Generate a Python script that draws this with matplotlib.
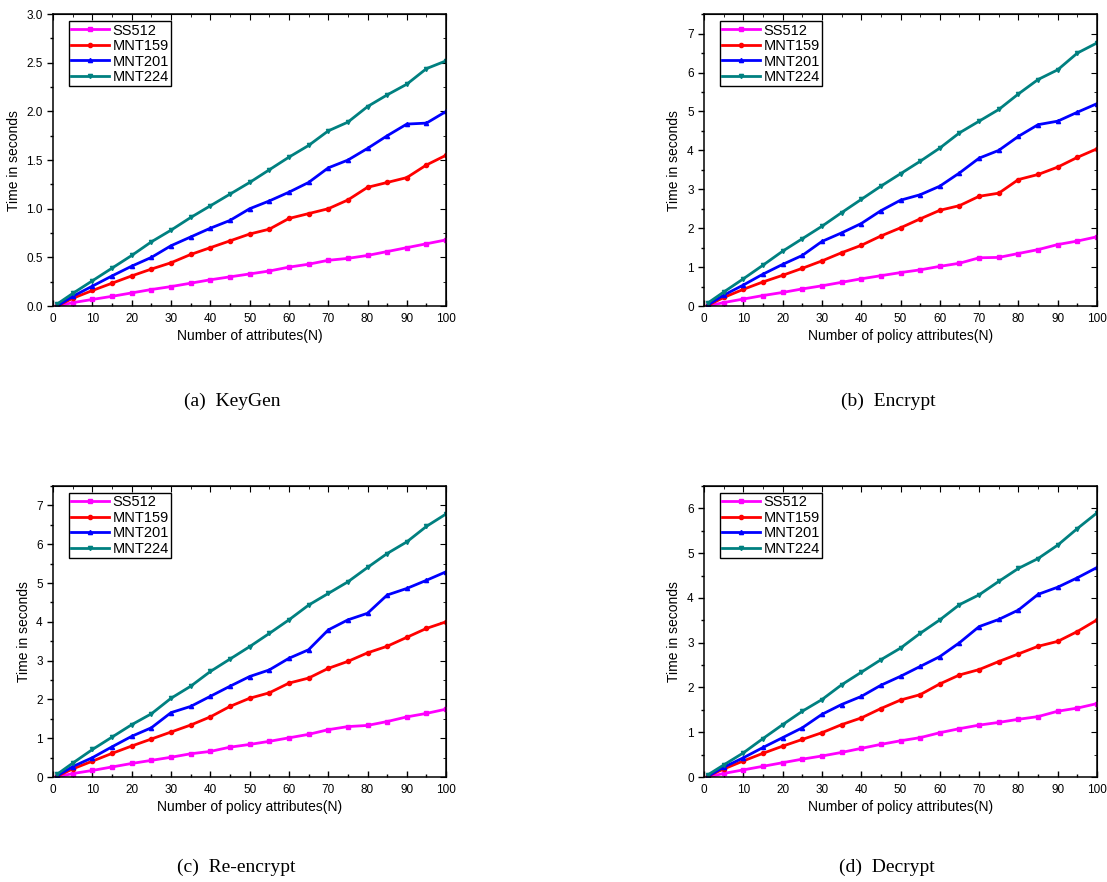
import matplotlib
matplotlib.use("Agg")
import matplotlib.pyplot as plt
from matplotlib.ticker import MultipleLocator

plt.rcParams['font.family'] = ['Liberation Sans', 'DejaVu Sans']

# x positions
n_attr = [1, 5, 10, 15, 20, 25, 30, 35, 40, 45, 50, 55, 60, 65, 70, 75, 80, 85, 90, 95, 100]
series_names = ["SS512", "MNT159", "MNT201", "MNT224"]

# (a) KeyGen
keygen_ss512 = [0.0, 0.035, 0.068, 0.10, 0.135, 0.17, 0.20, 0.235, 0.27, 0.30, 0.33, 0.36, 0.40, 0.43, 0.47, 0.49, 0.52, 0.56, 0.60, 0.64, 0.68]
keygen_mnt159 = [0.0, 0.08, 0.16, 0.235, 0.31, 0.38, 0.445, 0.53, 0.60, 0.67, 0.74, 0.79, 0.90, 0.95, 1.0, 1.09, 1.22, 1.27, 1.32, 1.45, 1.55]
keygen_mnt201 = [0.0, 0.10, 0.205, 0.31, 0.41, 0.50, 0.62, 0.71, 0.80, 0.88, 1.0, 1.08, 1.17, 1.27, 1.42, 1.50, 1.62, 1.75, 1.87, 1.88, 2.0]
keygen_mnt224 = [0.02, 0.13, 0.26, 0.39, 0.52, 0.66, 0.78, 0.91, 1.03, 1.15, 1.27, 1.40, 1.53, 1.65, 1.80, 1.89, 2.05, 2.17, 2.28, 2.44, 2.52]

# (b) Encrypt
encrypt_ss512 = [0.0, 0.09, 0.18, 0.27, 0.35, 0.44, 0.52, 0.61, 0.70, 0.78, 0.86, 0.93, 1.02, 1.10, 1.24, 1.25, 1.35, 1.45, 1.58, 1.67, 1.78]
encrypt_mnt159 = [0.02, 0.22, 0.43, 0.62, 0.79, 0.97, 1.16, 1.37, 1.56, 1.80, 2.01, 2.24, 2.46, 2.58, 2.82, 2.90, 3.25, 3.38, 3.57, 3.82, 4.04]
encrypt_mnt201 = [0.03, 0.28, 0.54, 0.82, 1.07, 1.30, 1.66, 1.88, 2.12, 2.45, 2.72, 2.86, 3.08, 3.42, 3.80, 4.0, 4.36, 4.66, 4.75, 4.98, 5.2]
encrypt_mnt224 = [0.08, 0.36, 0.70, 1.05, 1.41, 1.73, 2.05, 2.40, 2.74, 3.08, 3.40, 3.72, 4.06, 4.45, 4.75, 5.05, 5.45, 5.82, 6.07, 6.50, 6.76]

# (c) Re-encrypt
reenc_ss512 = [0.0, 0.09, 0.17, 0.26, 0.35, 0.43, 0.51, 0.60, 0.66, 0.77, 0.84, 0.92, 1.01, 1.10, 1.22, 1.30, 1.33, 1.43, 1.55, 1.64, 1.75]
reenc_mnt159 = [0.02, 0.21, 0.41, 0.61, 0.80, 0.98, 1.16, 1.34, 1.55, 1.82, 2.03, 2.17, 2.42, 2.55, 2.80, 2.98, 3.20, 3.37, 3.60, 3.83, 4.0]
reenc_mnt201 = [0.03, 0.27, 0.50, 0.78, 1.05, 1.27, 1.66, 1.82, 2.08, 2.34, 2.59, 2.76, 3.06, 3.28, 3.79, 4.05, 4.22, 4.69, 4.86, 5.07, 5.29]
reenc_mnt224 = [0.07, 0.36, 0.71, 1.03, 1.35, 1.63, 2.03, 2.34, 2.72, 3.04, 3.36, 3.70, 4.05, 4.43, 4.73, 5.03, 5.40, 5.76, 6.06, 6.46, 6.78]

# (d) Decrypt
decrypt_ss512 = [0.0, 0.08, 0.16, 0.24, 0.32, 0.40, 0.47, 0.55, 0.64, 0.73, 0.81, 0.88, 0.99, 1.08, 1.16, 1.22, 1.29, 1.35, 1.47, 1.54, 1.64]
decrypt_mnt159 = [0.02, 0.18, 0.36, 0.53, 0.69, 0.84, 0.99, 1.17, 1.32, 1.53, 1.72, 1.84, 2.08, 2.28, 2.40, 2.58, 2.75, 2.92, 3.03, 3.25, 3.51]
decrypt_mnt201 = [0.02, 0.22, 0.43, 0.66, 0.88, 1.10, 1.40, 1.62, 1.80, 2.05, 2.25, 2.47, 2.69, 3.0, 3.36, 3.52, 3.73, 4.08, 4.24, 4.45, 4.68]
decrypt_mnt224 = [0.05, 0.27, 0.54, 0.86, 1.17, 1.47, 1.73, 2.06, 2.34, 2.62, 2.88, 3.21, 3.51, 3.85, 4.07, 4.37, 4.66, 4.88, 5.18, 5.55, 5.90]

colors = ["#ff00ff", "#ff0000", "#0000ff", "#008080"]
markers = ["s", "o", "^", "v"]

panels = [
    ([keygen_ss512, keygen_mnt159, keygen_mnt201, keygen_mnt224], 3.0, 0.5, "Number of attributes(N)", "(a)  KeyGen"),
    ([encrypt_ss512, encrypt_mnt159, encrypt_mnt201, encrypt_mnt224], 7.5, 1, "Number of policy attributes(N)", "(b)  Encrypt"),
    ([reenc_ss512, reenc_mnt159, reenc_mnt201, reenc_mnt224], 7.5, 1, "Number of policy attributes(N)", "(c)  Re-encrypt"),
    ([decrypt_ss512, decrypt_mnt159, decrypt_mnt201, decrypt_mnt224], 6.5, 1, "Number of policy attributes(N)", "(d)  Decrypt"),
]
rects = [
    [0.048, 0.653, 0.355, 0.331],
    [0.636, 0.653, 0.355, 0.331],
    [0.048, 0.119, 0.355, 0.330],
    [0.636, 0.119, 0.355, 0.330],
]
caption_pos = [(0.210, 0.535), (0.802, 0.535), (0.213, 0.007), (0.801, 0.007)]

fig = plt.figure(figsize=(11.07, 8.82), dpi=100)

for (data, ymax, ystep, xlabel, caption), rect, cpos in zip(panels, rects, caption_pos):
    ax = fig.add_axes(rect)
    for vals, name, c, m in zip(data, series_names, colors, markers):
        ax.plot(n_attr, vals, color=c, marker=m, markersize=3, linewidth=2.0, label=name)
    ax.set_xlim(0, 100)
    ax.set_ylim(0, ymax)
    ax.xaxis.set_major_locator(MultipleLocator(10))
    ax.xaxis.set_minor_locator(MultipleLocator(5))
    ax.yaxis.set_major_locator(MultipleLocator(ystep))
    ax.yaxis.set_minor_locator(MultipleLocator(ystep / 2))
    if ystep < 1:
        ax.yaxis.set_major_formatter(plt.FormatStrFormatter('%.1f'))
    ax.tick_params(axis='y', which='major', direction='out', length=4, width=1, labelsize=8.5)
    ax.tick_params(axis='y', which='minor', direction='out', length=2.5, width=1)
    ax.tick_params(axis='x', which='major', direction='in', length=4, width=1, labelsize=8.5, pad=5)
    ax.tick_params(axis='x', which='minor', direction='in', length=2.5, width=1)
    for sp in ax.spines.values():
        sp.set_linewidth(1.1)

    # mirrored ticks on top and right, pointing inwards
    top = ax.secondary_xaxis('top')
    top.xaxis.set_major_locator(MultipleLocator(10))
    top.xaxis.set_minor_locator(MultipleLocator(5))
    top.tick_params(which='major', direction='in', length=4, labeltop=False)
    top.tick_params(which='minor', direction='in', length=2.5)
    right = ax.secondary_yaxis('right')
    right.yaxis.set_major_locator(MultipleLocator(ystep))
    right.yaxis.set_minor_locator(MultipleLocator(ystep / 2))
    right.tick_params(which='major', direction='in', length=4, labelright=False)
    right.tick_params(which='minor', direction='in', length=2.5)

    ax.set_xlabel(xlabel, fontsize=10, labelpad=3)
    ax.set_ylabel("Time in seconds", fontsize=10, labelpad=4)
    leg = ax.legend(loc='upper left', bbox_to_anchor=(0.04, 0.975), fontsize=10.5,
                    fancybox=False, edgecolor='black', framealpha=1,
                    handlelength=2.6, handletextpad=0.25, borderpad=0.15,
                    labelspacing=0.1, borderaxespad=0)
    leg.get_frame().set_linewidth(1.0)

    fig.text(cpos[0], cpos[1], caption, ha='center', va='bottom', fontsize=14,
             family=['Liberation Serif', 'DejaVu Serif'])

fig.savefig("out.png", dpi=100)
